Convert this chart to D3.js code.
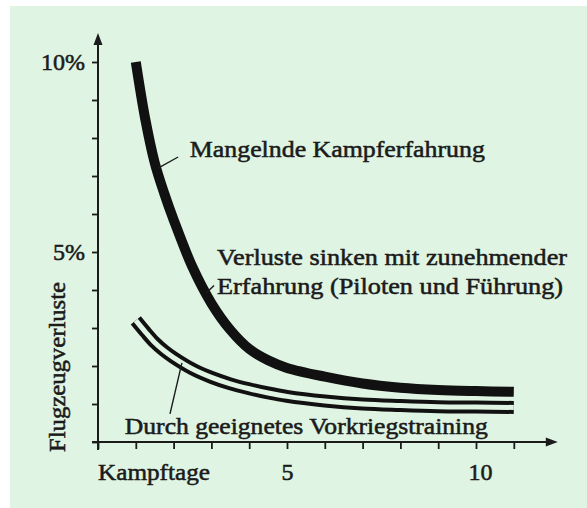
<!DOCTYPE html>
<html>
<head>
<meta charset="utf-8">
<script src="https://d3js.org/d3.v7.min.js"></script>
<style>
  body { margin: 0; background: #fff; }
</style>
</head>
<body>
<svg id="svg" width="587" height="508"></svg>
<script>
// Kampftage (x) and Flugzeugverluste in % (y)
var days = [1, 1.25, 1.5, 1.75, 2, 2.5, 3, 3.5, 4, 4.5, 5, 6, 7, 8, 9, 10, 11];
var lossNoExperience = [10, 8.5, 7.35, 6.55, 5.85, 4.6, 3.65, 2.95, 2.45, 2.15, 1.95, 1.72, 1.54, 1.43, 1.37, 1.34, 1.32];
var lossTrained = [3.2, 2.9, 2.62, 2.4, 2.22, 1.92, 1.7, 1.53, 1.4, 1.29, 1.2, 1.08, 1.0, 0.96, 0.93, 0.92, 0.91];

var xTicks = [0, 1, 2, 3, 4, 5, 6, 7, 8, 9, 10, 11];
var xTickLabels = {5: "5", 10: "10"};
var yTicks = [0, 1, 2, 3, 4, 5, 6, 7, 8, 9, 10];
var yTickLabels = {5: "5%", 10: "10%"};
var xTitle = "Kampftage";
var yTitle = "Flugzeugverluste";

// annotations: text, anchor in data units (day, %), width in px
var notes = [
  {text: "Mangelnde Kampferfahrung", d: 2.43, p: 7.5, w: 295},
  {text: "Verluste sinken mit zunehmender", d: 3.15, p: 4.66, w: 350},
  {text: "Erfahrung (Piloten und Führung)", d: 3.15, p: 3.9, w: 346},
  {text: "Durch geeignetes Vorkriegstraining", d: 0.71, p: 0.21, w: 363}
];
var leaders = [
  [[1.59, 7.21], [2.12, 7.5]],
  [[2.86, 3.92], [3.07, 4.12]],
  [[2.22, 2.08], [1.905, 0.74]]
];

var svg = d3.select("svg");
var width = +svg.attr("width");
var height = +svg.attr("height");
var bg = "#dff4e2";
var ink = "#1b1b1b";

function serif(sel, size) {
  sel.style("font-family", "'Liberation Serif', 'Times New Roman', serif")
    .style("font-size", size + "px").style("fill", ink)
    .style("stroke", ink).style("stroke-width", "0.55px");
}

svg.append("rect").attr("x", 10).attr("y", 6).attr("width", width - 10).attr("height", height - 6)
  .attr("fill", bg);

var x = d3.scaleLinear().domain([0, 10]).range([98, 476]);
var y = d3.scaleLinear().domain([0, 10]).range([442, 62]);

// axes
var xAxis = svg.append("g").attr("transform", "translate(0," + y(0) + ")")
  .call(d3.axisBottom(x).tickValues(xTicks).tickSize(7).tickFormat(function(d){ return xTickLabels[d] || ""; }));
xAxis.select(".domain").remove();
xAxis.selectAll("line").attr("stroke", ink).attr("stroke-width", 1.8);
xAxis.selectAll("text").attr("y", 38).attr("dy", null)
  .attr("dx", function(d){ return d === 10 ? 4 : 0; }).call(serif, 24);

var yAxis = svg.append("g").attr("transform", "translate(" + x(0) + ",0)")
  .call(d3.axisLeft(y).tickValues(yTicks).tickSize(6).tickFormat(function(d){ return yTickLabels[d] || ""; }));
yAxis.select(".domain").remove();
yAxis.selectAll("line").attr("stroke", ink).attr("stroke-width", 1.8);
yAxis.selectAll("text").attr("x", -13).attr("dy", "0.3em").call(serif, 24);

// axis lines with arrows
svg.append("line").attr("x1", x(0)).attr("x2", x(0)).attr("y1", y(0) + 8).attr("y2", y(10) - 18)
  .attr("stroke", ink).attr("stroke-width", 2);
svg.append("path").attr("fill", ink)
  .attr("d", "M" + x(0) + "," + (y(10) - 29) + " l-4.5,12 l9,0 z");
svg.append("line").attr("x1", x(0) - 6).attr("x2", x(11) + 34).attr("y1", y(0)).attr("y2", y(0))
  .attr("stroke", ink).attr("stroke-width", 2);
svg.append("path").attr("fill", ink)
  .attr("d", "M" + (x(11) + 44) + "," + y(0) + " l-12,-4.5 l0,9 z");

svg.append("text").attr("x", x(0)).attr("y", y(0) + 38)
  .attr("textLength", 112).attr("lengthAdjust", "spacingAndGlyphs").text(xTitle).call(serif, 24);
svg.append("text").attr("transform", "translate(65,367) rotate(-90)")
  .attr("text-anchor", "middle")
  .attr("textLength", 170).attr("lengthAdjust", "spacingAndGlyphs").text(yTitle).call(serif, 24);

// curves
var line = d3.line().x(function(d){ return x(d[0]); }).y(function(d){ return y(d[1]); })
  .curve(d3.curveCatmullRom.alpha(0.5));
var thick = days.map(function(d, i){ return [d, lossNoExperience[i]]; });
var trained = days.map(function(d, i){ return [d, lossTrained[i]]; });

svg.append("path").attr("d", line(trained)).attr("fill", "none")
  .attr("stroke", "#111").attr("stroke-width", 13);
svg.append("path").attr("d", line(trained)).attr("fill", "none")
  .attr("stroke", bg).attr("stroke-width", 5);
svg.append("path").attr("d", line(thick)).attr("fill", "none")
  .attr("stroke", "#111").attr("stroke-width", 10);

// leaders
leaders.forEach(function(l){
  svg.append("line").attr("x1", x(l[0][0])).attr("y1", y(l[0][1]))
    .attr("x2", x(l[1][0])).attr("y2", y(l[1][1]))
    .attr("stroke", ink).attr("stroke-width", 1.4);
});

notes.forEach(function(n){
  svg.append("text").attr("x", x(n.d)).attr("y", y(n.p))
    .attr("textLength", n.w).attr("lengthAdjust", "spacingAndGlyphs").text(n.text).call(serif, 24);
});
</script>
</body>
</html>
